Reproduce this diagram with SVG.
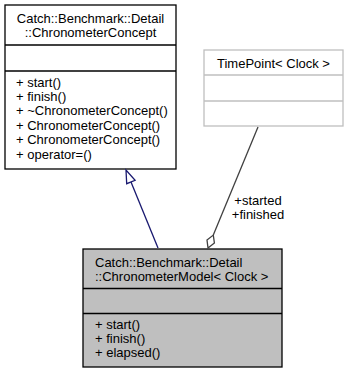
<svg xmlns="http://www.w3.org/2000/svg" width="349" height="375" viewBox="0 0 349 375">
  <style>
    text { font-family: "Liberation Sans", Arial, Helvetica, sans-serif; font-size: 13px; fill: #000; }
    .mid { text-anchor: middle; }
    .box { fill: #fff; stroke: #000; stroke-width: 1.3; }
    .cur { fill: #bfbfbf; stroke: #000; stroke-width: 1.3; }
    .ext { fill: #fff; stroke: #bfbfbf; stroke-width: 1.3; }
    .sep { stroke: #000; stroke-width: 1.3; }
    .sepx { stroke: #bfbfbf; stroke-width: 1.3; }
    .inherit { fill: none; stroke: #191970; stroke-width: 1.3; }
    .inherit-head { fill: #fff; stroke: #191970; stroke-width: 1.3; }
    .usage { fill: none; stroke: #404040; stroke-width: 1.3; }
    .usage-head { fill: #fff; stroke: #404040; stroke-width: 1.3; }
  </style>

  <!-- Interface base class -->
  <g id="node-chronometer-concept">
    <rect class="box" x="5" y="5" width="171" height="164"/>
    <text class="mid" x="90.5" y="22.5">Catch::Benchmark::Detail</text>
    <text class="mid" x="90.5" y="36.5">::ChronometerConcept</text>
    <line class="sep" x1="5" y1="45" x2="176" y2="45"/>
    <line class="sep" x1="5" y1="71" x2="176" y2="71"/>
    <text x="16" y="86.5">+ start()</text>
    <text x="16" y="100.9">+ finish()</text>
    <text x="16" y="115.3">+ ~ChronometerConcept()</text>
    <text x="16" y="129.7">+ ChronometerConcept()</text>
    <text x="16" y="144.1">+ ChronometerConcept()</text>
    <text x="16" y="158.5">+ operator=()</text>
  </g>

  <!-- Member type -->
  <g id="node-timepoint">
    <rect class="ext" x="204" y="50" width="139" height="76"/>
    <text class="mid" x="273.5" y="67.5">TimePoint&lt; Clock &gt;</text>
    <line class="sepx" x1="204" y1="75" x2="343" y2="75"/>
    <line class="sepx" x1="204" y1="101" x2="343" y2="101"/>
  </g>

  <!-- Concrete model -->
  <g id="node-chronometer-model">
    <rect class="cur" x="83" y="249" width="199" height="118"/>
    <text x="95" y="266.5">Catch::Benchmark::Detail</text>
    <text x="95" y="280.5">::ChronometerModel&lt; Clock &gt;</text>
    <line class="sep" x1="83" y1="288.5" x2="282" y2="288.5"/>
    <line class="sep" x1="83" y1="313.5" x2="282" y2="313.5"/>
    <text x="95" y="328.6">+ start()</text>
    <text x="95" y="343">+ finish()</text>
    <text x="95" y="357.4">+ elapsed()</text>
  </g>

  <g id="edges">
    <!-- generalization: model -> concept -->
    <g id="edge-inherit">
      <line class="inherit" x1="158" y1="248" x2="131" y2="182"/>
      <polygon class="inherit-head" points="126,170 126.7,183.7 135.1,180.3"/>
    </g>
    <!-- aggregation: model owns started/finished time points -->
    <g id="edge-usage">
      <line class="usage" x1="258" y1="127" x2="213.3" y2="235.1"/>
      <polygon class="usage-head" points="208,248 207,240 213.3,235.1 214.4,243"/>
      <text class="mid" x="258" y="205">+started</text>
      <text class="mid" x="258" y="219.4">+finished</text>
    </g>
  </g>
</svg>
